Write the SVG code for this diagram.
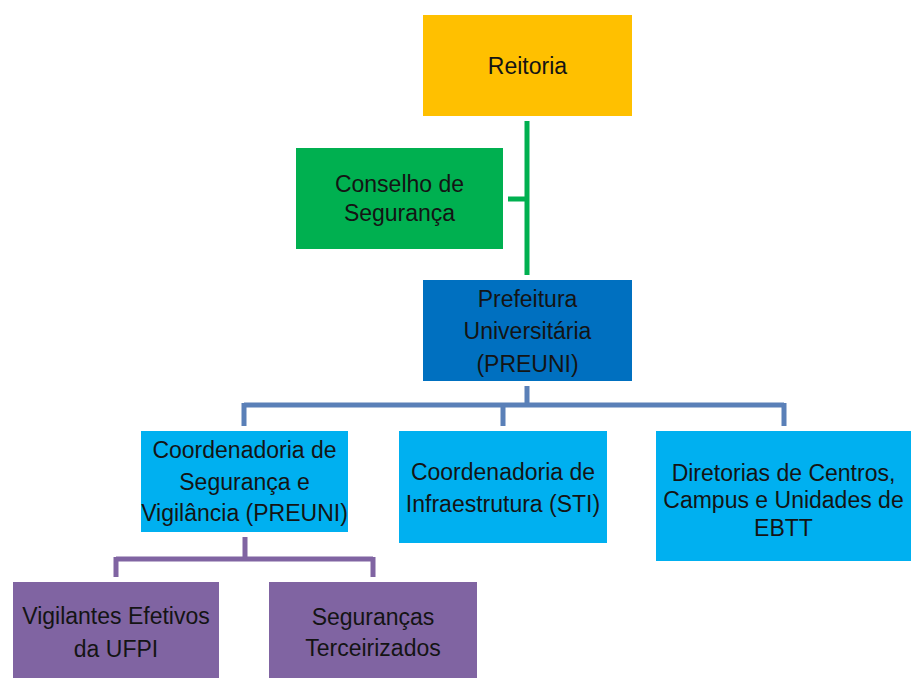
<svg xmlns="http://www.w3.org/2000/svg" width="911" height="678" viewBox="0 0 911 678">
<style>
text{font-family:"Liberation Sans",Arial,sans-serif;font-size:23px;fill:#141414;text-anchor:middle}
.ln{fill:none;stroke-width:5}
.g{stroke:#00B050}.b{stroke:#5A80B8}.p{stroke:#8064A2}
</style>
<rect width="911" height="678" fill="#fff"/>
<g id="connectors">
<path class="ln g" d="M527 121V275M508 199H527"/>
<path class="ln b" d="M527 386V405M244 405H784M244 403V426M503 403V426M784 403V426"/>
<path class="ln p" d="M245 537V559M116 559H373M116 557V577M373 557V577"/>
</g>
<g id="reitoria"><rect x="423" y="15" width="209" height="101" fill="#FFC000"/><text x="527.5" y="74">Reitoria</text></g>
<g id="conselho"><rect x="296" y="148" width="207" height="101" fill="#00B050"/><text x="399.5" y="192">Conselho de</text><text x="399.5" y="221">Segurança</text></g>
<g id="prefeitura"><rect x="423" y="280" width="209" height="101" fill="#0070C0"/><text x="527.5" y="307">Prefeitura</text><text x="527.5" y="339">Universitária</text><text x="527.5" y="372">(PREUNI)</text></g>
<g id="coord-seg"><rect x="141" y="431" width="207" height="101" fill="#00B0F0"/><text x="244.5" y="458">Coordenadoria de</text><text x="244.5" y="490">Segurança e</text><text x="244.5" y="521">Vigilância (PREUNI)</text></g>
<g id="coord-infra"><rect x="399" y="431" width="208" height="112" fill="#00B0F0"/><text x="503" y="480">Coordenadoria de</text><text x="503" y="512">Infraestrutura (STI)</text></g>
<g id="diretorias"><rect x="656" y="431" width="255" height="130" fill="#00B0F0"/><text x="783.5" y="481">Diretorias de Centros,</text><text x="783.5" y="508">Campus e Unidades de</text><text x="783.5" y="536">EBTT</text></g>
<g id="vigilantes"><rect x="13" y="582" width="206" height="96" fill="#8064A2"/><text x="116" y="624">Vigilantes Efetivos</text><text x="116" y="657">da UFPI</text></g>
<g id="segurancas"><rect x="269" y="582" width="208" height="96" fill="#8064A2"/><text x="373" y="625">Seguranças</text><text x="373" y="656">Terceirizados</text></g>
</svg>
